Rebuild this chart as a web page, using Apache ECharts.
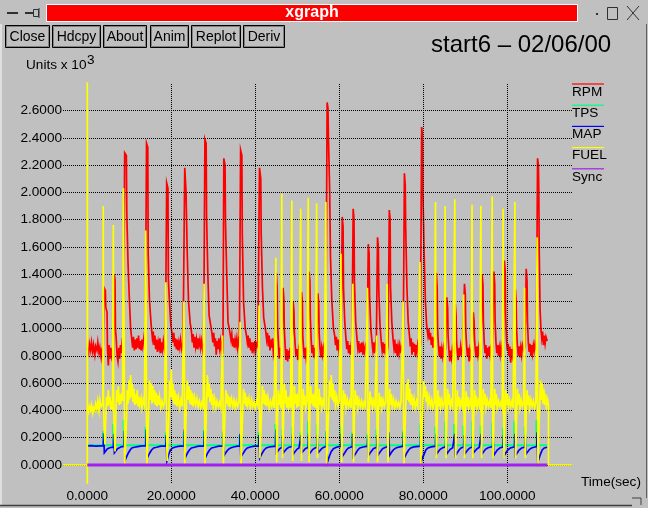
<!DOCTYPE html>
<html><head><meta charset="utf-8">
<script src="https://cdn.jsdelivr.net/npm/echarts@6/dist/echarts.min.js"></script>
<style>html,body{margin:0;padding:0;background:#c0c0c0;overflow:hidden}#c{width:648px;height:508px}</style>
</head><body><div id="c"></div><script>
const xTicks=[0,20,40,60,80,100];
const yTicks=[0,0.2,0.4,0.6,0.8,1.0,1.2,1.4,1.6,1.8,2.0,2.2,2.4,2.6];
const seriesNames=['RPM','TPS','MAP','FUEL','Sync'];
const buttonLabels=['Close','Hdcpy','About','Anim','Replot','Deriv'];
const plotTitle='start6 – 02/06/00';
const xAxisName='Time(sec)';

const rpm=[[0,0.86],[0.3,0.82],[0.5,0.89],[0.8,0.84],[1.0,0.90],[1.3,0.83],[1.5,0.88],[1.8,0.81],[2.0,0.87],[2.3,0.84],[2.5,0.90],[2.8,0.82],[3.0,0.86],[3.3,0.79],[3.5,0.85],[3.8,0.88],
[4.0,1.30],[4.3,1.28],[4.4,1.16],[4.7,1.12],[4.8,0.86],[5.0,0.73],[5.2,0.88],[5.4,0.78],[5.6,0.86],[5.8,0.80],[6.0,0.84],[6.2,0.76],
[6.4,1.40],[6.6,1.36],[6.7,1.00],[6.9,0.92],[7.1,0.80],[7.3,0.76],[7.5,0.86],[7.7,0.78],[7.9,0.88],[8.1,0.82],[8.3,0.90],[8.6,0.87],
[8.9,2.29],[9.3,2.27],[9.4,1.85],[9.7,1.48],[10.0,1.23],[10.3,1.01],[10.6,0.92],[10.8,0.86],[11.0,0.94],[11.2,0.84],[11.4,0.92],[11.6,0.85],[11.8,0.93],[12.0,0.86],[12.2,0.95],[12.4,0.85],[12.6,0.91],[12.8,0.84],[13.0,0.92],[13.2,0.87],[13.5,0.94],[13.8,0.88],
[14.1,2.36],[14.4,2.33],[14.5,1.55],[14.8,1.21],[15.2,1.03],[15.5,0.93],[15.7,0.98],[15.9,0.88],[16.1,0.95],[16.3,0.85],[16.5,0.92],[16.7,0.83],[16.9,0.90],[17.1,0.86],[17.3,0.93],[17.5,0.82],[17.7,0.90],[17.9,0.85],[18.1,0.91],[18.4,0.84],[18.6,0.88],
[18.9,2.07],[19.2,2.03],[19.3,1.36],[19.6,1.18],[19.9,1.02],[20.2,0.96],[20.4,0.90],[20.6,0.97],[20.8,0.87],[21.0,0.93],[21.2,0.85],[21.4,0.92],[21.6,0.84],[21.8,0.90],[22.0,0.86],[22.2,0.92],[22.5,0.85],[22.8,0.90],
[23.2,2.18],[23.5,2.01],[23.8,1.55],[24.1,1.20],[24.5,1.04],[24.8,0.98],[25.0,0.90],[25.2,0.96],[25.4,0.86],[25.6,0.94],[25.8,0.87],[26.0,0.92],[26.2,0.85],[26.4,0.93],[26.6,0.88],[26.8,0.92],[27.0,0.86],[27.2,0.91],[27.5,0.84],[27.7,0.88],
[28.0,2.39],[28.3,2.36],[28.4,1.82],[28.7,1.40],[29.0,1.10],[29.4,1.02],[29.7,0.96],[29.9,0.90],[30.1,0.97],[30.3,0.87],[30.5,0.93],[30.7,0.81],[30.9,0.91],[31.1,0.85],[31.3,0.93],[31.5,0.86],[31.7,0.91],[31.9,0.84],[32.1,0.89],[32.3,0.86],
[32.5,2.25],[32.8,2.20],[32.9,1.78],[33.2,1.40],[33.5,1.05],[33.9,0.98],[34.2,0.92],[34.4,0.96],[34.6,0.87],[34.8,0.93],[35.0,0.86],[35.2,0.92],[35.4,0.88],[35.6,0.93],[35.8,0.86],[36.0,0.91],[36.2,0.88],
[36.5,2.31],[36.8,2.27],[36.9,1.70],[37.2,1.20],[37.6,1.00],[37.9,0.95],[38.1,0.90],[38.3,0.95],[38.5,0.86],[38.7,0.93],[38.9,0.84],[39.1,0.90],[39.3,0.82],[39.5,0.90],[39.7,0.85],[39.9,0.91],[40.1,0.84],[40.3,0.89],[40.6,0.87],
[41.0,2.18],[41.3,2.10],[41.4,1.70],[41.7,1.30],[42.0,1.08],[42.4,1.00],[42.7,0.92],[42.9,0.97],[43.1,0.87],[43.3,0.95],[43.5,0.84],[43.7,0.92],[43.9,0.86],[44.1,0.93],[44.3,0.82],[44.6,0.88],
[45.0,1.41],[45.2,1.30],[45.3,1.02],[45.5,0.90],[45.7,0.78],[45.9,0.86],[46.1,0.79],[46.3,0.85],
[46.6,1.30],[46.8,1.22],[46.9,1.00],[47.1,0.88],[47.3,0.77],[47.5,0.85],[47.7,0.76],[47.9,0.84],[48.1,0.78],[48.3,0.86],[48.5,0.80],[48.7,0.84],
[49.0,1.20],[49.2,1.13],[49.3,0.98],[49.5,0.88],[49.7,0.80],[49.9,0.85],[50.1,0.77],[50.3,0.84],[50.5,0.79],[50.7,0.83],
[51.0,1.27],[51.2,1.20],[51.3,0.95],[51.5,0.85],[51.7,0.78],[51.9,0.86],[52.1,0.79],[52.3,0.84],[52.5,0.81],
[52.8,1.42],[53.0,1.35],[53.1,1.08],[53.3,0.92],[53.5,0.82],[53.7,0.88],[53.9,0.79],[54.1,0.86],[54.3,0.80],[54.6,0.85],
[54.9,1.26],[55.1,1.18],[55.2,0.97],[55.4,0.86],[55.6,0.79],[55.8,0.86],[56.0,0.81],[56.2,0.86],[56.4,0.82],[56.6,0.88],[56.8,0.90],
[57.1,2.66],[57.3,2.62],[57.4,2.42],[57.7,2.02],[57.9,1.53],[58.2,1.22],[58.6,1.00],[58.9,0.95],[59.1,0.88],[59.3,0.94],[59.5,0.84],[59.7,0.92],[59.9,0.85],[60.1,0.90],[60.4,0.86],
[60.7,1.82],[60.9,1.75],[61.0,1.30],[61.3,1.05],[61.6,0.92],[61.8,0.85],[62.0,0.91],[62.2,0.82],[62.4,0.88],[62.6,0.81],[62.8,0.87],[63.0,0.84],
[63.3,1.88],[63.5,1.80],[63.6,1.35],[63.9,1.05],[64.2,0.93],[64.4,0.86],[64.6,0.91],[64.8,0.82],[65.0,0.89],[65.2,0.83],[65.4,0.90],[65.6,0.81],[65.8,0.87],[66.0,0.83],[66.3,0.88],[66.6,0.85],
[66.9,1.62],[67.1,1.55],[67.2,1.25],[67.5,1.00],[67.8,0.90],[68.0,0.84],[68.2,0.90],[68.4,0.82],[68.6,0.88],[68.8,0.85],
[69.1,1.67],[69.3,1.60],[69.4,1.28],[69.7,1.02],[70.0,0.90],[70.2,0.84],[70.4,0.90],[70.6,0.82],[70.8,0.89],[71.0,0.81],[71.2,0.88],[71.4,0.83],[71.6,0.87],
[71.9,1.87],[72.1,1.80],[72.2,1.30],[72.5,1.05],[72.8,0.92],[73.0,0.86],[73.2,0.92],[73.4,0.82],[73.6,0.89],[73.8,0.80],[74.0,0.87],[74.2,0.82],[74.4,0.88],[74.6,0.84],[74.9,0.87],[75.2,0.83],
[75.5,2.14],[75.7,2.05],[75.8,1.75],[76.1,1.30],[76.4,1.05],[76.7,0.95],[76.9,0.87],[77.1,0.93],[77.3,0.81],[77.5,0.90],[77.7,0.83],[77.9,0.89],[78.1,0.80],[78.3,0.88],[78.5,0.83],[78.7,0.89],[79.0,0.85],[79.3,0.88],
[79.6,2.48],[79.8,2.42],[79.9,2.00],[80.2,1.55],[80.5,1.20],[80.8,1.02],[81.1,0.95],[81.3,1.00],[81.5,0.92],[81.7,0.97],[81.9,0.88],[82.1,0.94],[82.3,0.86],[82.5,0.91],[82.8,0.87],
[83.1,1.41],[83.3,1.30],[83.4,1.00],[83.6,0.88],[83.8,0.80],[84.0,0.87],[84.2,0.78],[84.4,0.85],[84.6,0.80],[84.8,0.86],[85.0,0.82],[85.3,0.85],
[85.6,1.23],[85.8,1.15],[85.9,0.95],[86.1,0.84],[86.3,0.76],[86.5,0.84],[86.7,0.79],[86.9,0.85],[87.1,0.81],[87.3,0.84],
[87.6,1.18],[87.8,1.10],[87.9,0.92],[88.1,0.83],[88.3,0.77],[88.5,0.86],[88.7,0.80],[88.9,0.87],[89.1,0.82],[89.4,0.85],
[89.8,1.33],[90.0,1.25],[90.1,1.00],[90.3,0.88],[90.5,0.80],[90.7,0.86],[90.9,0.76],[91.1,0.84],[91.3,0.80],[91.6,0.86],
[91.9,1.12],[92.1,1.05],[92.2,0.92],[92.4,0.84],[92.6,0.79],[92.8,0.87],[93.0,0.81],[93.2,0.86],[93.4,0.80],[93.7,0.85],
[94.0,1.40],[94.2,1.32],[94.3,1.05],[94.5,0.90],[94.7,0.82],[94.9,0.88],[95.1,0.78],[95.3,0.86],[95.5,0.80],[95.7,0.87],[95.9,0.81],[96.1,0.86],[96.4,0.83],
[96.8,1.42],[97.0,1.33],[97.1,1.05],[97.3,0.90],[97.5,0.82],[97.7,0.88],[97.9,0.80],[98.1,0.86],[98.3,0.81],[98.5,0.87],[98.7,0.82],[99.0,0.85],
[99.3,1.50],[99.5,1.42],[99.6,1.10],[99.8,0.92],[100.0,0.84],[100.2,0.89],[100.4,0.80],[100.6,0.87],[100.8,0.75],[101.0,0.85],[101.2,0.80],[101.5,0.86],
[101.9,1.29],[102.1,1.20],[102.2,1.00],[102.4,0.88],[102.6,0.80],[102.8,0.87],[103.0,0.79],[103.2,0.86],[103.4,0.81],[103.6,0.88],[103.9,0.84],[104.2,0.86],
[104.5,1.44],[104.7,1.35],[104.8,1.05],[105.0,0.90],[105.2,0.83],[105.4,0.89],[105.6,0.80],[105.8,0.88],[106.0,0.82],[106.2,0.88],[106.4,0.84],[106.6,0.89],[106.9,0.85],
[107.2,2.25],[107.4,2.20],[107.5,2.00],[107.6,1.57],[107.8,1.14],[108.0,1.00],[108.2,0.93],[108.4,0.98],[108.6,0.88],[108.8,0.95],[109.0,0.89],[109.2,0.94],[109.5,0.91]];

const tps=[[0,0.145],
[3.75,0.145],[3.75,0.25],[3.9,0.25],[3.9,0.145],[6.15,0.145],[6.15,0.30],[6.3,0.30],[6.3,0.145],
[8.65,0.145],[8.65,0.33],[8.8,0.33],[8.8,0.145],[13.85,0.145],[13.85,0.28],[14.0,0.28],[14.0,0.145],
[18.65,0.145],[18.65,0.24],[18.8,0.24],[18.8,0.145],[22.95,0.145],[22.95,0.24],[23.1,0.24],[23.1,0.145],
[27.75,0.145],[27.75,0.26],[27.9,0.26],[27.9,0.145],[32.25,0.145],[32.25,0.25],[32.4,0.25],[32.4,0.145],
[36.25,0.145],[36.25,0.22],[36.4,0.22],[36.4,0.145],[40.75,0.145],[40.75,0.24],[40.9,0.24],[40.9,0.145],
[44.75,0.145],[44.75,0.30],[44.9,0.30],[44.9,0.145],[46.35,0.145],[46.35,0.26],[46.5,0.26],[46.5,0.145],
[48.75,0.145],[48.75,0.28],[48.9,0.28],[48.9,0.145],[50.75,0.145],[50.75,0.24],[50.9,0.24],[50.9,0.145],
[52.55,0.145],[52.55,0.32],[52.7,0.32],[52.7,0.145],[54.65,0.145],[54.65,0.30],[54.8,0.30],[54.8,0.145],
[56.85,0.145],[56.85,0.25],[57.0,0.25],[57.0,0.145],[60.35,0.145],[60.35,0.28],[60.5,0.28],[60.5,0.145],
[63.05,0.145],[63.05,0.24],[63.2,0.24],[63.2,0.145],[66.65,0.145],[66.65,0.23],[66.8,0.23],[66.8,0.145],
[68.85,0.145],[68.85,0.26],[69.0,0.26],[69.0,0.145],[71.65,0.145],[71.65,0.24],[71.8,0.24],[71.8,0.145],
[75.15,0.145],[75.15,0.25],[75.3,0.25],[75.3,0.145],[79.25,0.145],[79.25,0.30],[79.4,0.30],[79.4,0.145],
[82.85,0.145],[82.85,0.28],[83.0,0.28],[83.0,0.145],[85.25,0.145],[85.25,0.32],[85.4,0.32],[85.4,0.145],
[87.35,0.145],[87.35,0.30],[87.5,0.30],[87.5,0.145],[89.55,0.145],[89.55,0.29],[89.7,0.29],[89.7,0.145],
[91.65,0.145],[91.65,0.32],[91.8,0.32],[91.8,0.145],[93.65,0.145],[93.65,0.29],[93.8,0.29],[93.8,0.145],
[96.45,0.145],[96.45,0.31],[96.6,0.31],[96.6,0.145],[98.95,0.145],[98.95,0.27],[99.1,0.27],[99.1,0.145],
[101.65,0.145],[101.65,0.32],[101.8,0.32],[101.8,0.145],[104.15,0.145],[104.15,0.28],[104.3,0.28],[104.3,0.145],
[106.95,0.145],[106.95,0.33],[107.1,0.33],[107.1,0.145],[109.5,0.145]];

const map=[[0,0.14],[1.0,0.142],[2.0,0.139],[3.0,0.141],[3.8,0.14],
[3.9,0.235],[4.0,0.235],[4.05,0.09],[4.4,0.10],[4.8,0.12],[5.2,0.125],[5.7,0.13],[6.2,0.13],
[6.3,0.23],[6.4,0.23],[6.45,0.09],[6.8,0.10],[7.2,0.12],[7.6,0.13],[8.2,0.135],[8.7,0.135],
[8.8,0.25],[9.0,0.25],[9.05,0.04],[9.5,0.04],[9.8,0.09],[10.2,0.11],[10.6,0.125],[11.2,0.13],[12.0,0.135],[13.0,0.14],[13.9,0.14],
[14.0,0.26],[14.2,0.26],[14.25,0.05],[14.6,0.05],[14.9,0.09],[15.3,0.11],[15.8,0.125],[16.5,0.13],[17.5,0.138],[18.7,0.14],
[18.8,0.22],[18.9,0.22],[18.95,0.03],[19.2,0.03],[19.4,0.08],[19.8,0.11],[20.3,0.125],[21.0,0.132],[22.0,0.138],[23.0,0.14],
[23.1,0.26],[23.2,0.26],[23.25,0.05],[23.6,0.05],[23.9,0.09],[24.3,0.11],[24.8,0.125],[25.5,0.13],[26.5,0.138],[27.8,0.14],
[27.9,0.25],[28.0,0.25],[28.05,0.05],[28.4,0.05],[28.7,0.09],[29.1,0.11],[29.6,0.125],[30.3,0.13],[31.3,0.138],[32.3,0.14],
[32.4,0.24],[32.5,0.24],[32.55,0.07],[32.9,0.07],[33.2,0.10],[33.6,0.115],[34.1,0.125],[34.8,0.132],[35.8,0.138],[36.3,0.14],
[36.4,0.23],[36.5,0.23],[36.55,0.06],[36.9,0.06],[37.2,0.09],[37.6,0.11],[38.1,0.125],[38.8,0.132],[39.8,0.138],[40.8,0.14],
[40.9,0.22],[41.0,0.22],[41.05,0.05],[41.4,0.05],[41.7,0.09],[42.1,0.11],[42.6,0.125],[43.3,0.132],[44.8,0.138],
[44.9,0.26],[45.0,0.26],[45.05,0.09],[45.4,0.10],[45.8,0.12],[46.4,0.13],
[46.5,0.22],[46.6,0.22],[46.65,0.09],[47.0,0.10],[47.5,0.12],[48.0,0.13],[48.8,0.135],
[48.9,0.23],[49.0,0.23],[49.05,0.08],[49.4,0.09],[49.9,0.115],[50.4,0.125],[50.8,0.13],
[50.9,0.22],[51.0,0.22],[51.05,0.09],[51.4,0.10],[51.9,0.12],[52.6,0.13],
[52.7,0.23],[52.8,0.23],[52.85,0.08],[53.2,0.09],[53.7,0.115],[54.2,0.125],[54.7,0.13],
[54.8,0.22],[54.9,0.22],[54.95,0.09],[55.3,0.10],[55.8,0.12],[56.3,0.13],[56.9,0.135],
[57.0,0.25],[57.1,0.25],[57.15,0.02],[57.4,0.02],[57.7,0.07],[58.1,0.10],[58.6,0.12],[59.3,0.13],[60.4,0.138],
[60.5,0.23],[60.6,0.23],[60.65,0.06],[61.0,0.06],[61.3,0.09],[61.7,0.11],[62.2,0.125],[63.1,0.135],
[63.2,0.23],[63.3,0.23],[63.35,0.06],[63.7,0.06],[64.0,0.09],[64.4,0.11],[64.9,0.125],[65.7,0.132],[66.7,0.138],
[66.8,0.22],[66.9,0.22],[66.95,0.07],[67.3,0.07],[67.6,0.10],[68.1,0.12],[68.9,0.13],
[69.0,0.22],[69.1,0.22],[69.15,0.07],[69.5,0.07],[69.8,0.10],[70.3,0.12],[71.0,0.13],[71.7,0.135],
[71.8,0.24],[71.9,0.24],[71.95,0.07],[72.3,0.07],[72.6,0.10],[73.0,0.115],[73.6,0.127],[74.4,0.133],[75.2,0.138],
[75.3,0.24],[75.4,0.24],[75.45,0.05],[75.8,0.05],[76.1,0.09],[76.5,0.11],[77.0,0.125],[77.8,0.133],[79.3,0.138],
[79.4,0.26],[79.5,0.26],[79.55,0.03],[79.9,0.03],[80.2,0.08],[80.6,0.11],[81.1,0.125],[81.9,0.133],[82.9,0.138],
[83.0,0.23],[83.1,0.23],[83.15,0.08],[83.5,0.09],[84.0,0.115],[84.6,0.127],[85.3,0.133],
[85.4,0.22],[85.5,0.22],[85.55,0.08],[85.9,0.09],[86.4,0.115],[87.0,0.127],[87.4,0.132],
[87.5,0.23],[87.6,0.23],[87.65,0.07],[88.0,0.08],[88.5,0.11],[89.0,0.125],[89.6,0.132],
[89.7,0.22],[89.8,0.22],[89.85,0.08],[90.2,0.09],[90.7,0.115],[91.2,0.127],[91.7,0.132],
[91.8,0.22],[91.9,0.22],[91.95,0.09],[92.3,0.10],[92.8,0.12],[93.3,0.128],[93.7,0.132],
[93.8,0.23],[93.9,0.23],[93.95,0.08],[94.3,0.09],[94.8,0.115],[95.4,0.127],[96.5,0.135],
[96.6,0.23],[96.7,0.23],[96.75,0.07],[97.1,0.08],[97.6,0.11],[98.2,0.125],[99.0,0.133],
[99.1,0.22],[99.2,0.22],[99.25,0.07],[99.6,0.08],[100.1,0.11],[100.7,0.125],[101.7,0.133],
[101.8,0.23],[101.9,0.23],[101.95,0.07],[102.3,0.08],[102.8,0.11],[103.4,0.125],[104.2,0.132],
[104.3,0.22],[104.4,0.22],[104.45,0.08],[104.8,0.09],[105.3,0.115],[105.9,0.127],[107.0,0.135],
[107.1,0.24],[107.2,0.24],[107.25,0.02],[107.6,0.02],[107.9,0.08],[108.3,0.11],[108.8,0.125],[109.5,0.13]];

const fuel=[[-5.8,0],[0,0],[0,-1],[0,3],[0.05,0.42],
[0.3,0.39],[0.5,0.43],[0.8,0.40],[1.0,0.44],[1.3,0.38],[1.5,0.42],[1.8,0.40],[2.0,0.45],[2.3,0.41],[2.5,0.47],[2.8,0.40],[3.0,0.48],[3.3,0.43],[3.7,0.45],
[3.8,1.90],[3.85,0.50],[4.0,0.28],[4.2,0.15],[4.4,0.35],[4.6,0.50],[4.8,0.43],[5.0,0.55],[5.2,0.44],[5.4,0.50],[5.6,0.41],[5.8,0.47],[6.0,0.40],
[6.2,1.76],[6.25,0.60],[6.4,0.25],[6.6,0.10],[6.8,0.38],[7.0,0.55],[7.2,0.46],[7.4,0.58],[7.6,0.44],[7.8,0.52],[8.0,0.45],[8.2,0.53],[8.4,0.47],
[8.6,2.03],[8.7,1.50],[8.8,0.70],[8.9,0.00],[9.2,0.00],[9.3,0.30],[9.5,0.55],[9.7,0.45],[9.9,0.62],[10.1,0.48],[10.3,0.66],[10.5,0.50],[10.7,0.60],[10.9,0.46],[11.1,0.56],[11.3,0.44],[11.5,0.52],[11.7,0.45],[11.9,0.55],[12.1,0.43],[12.3,0.50],[12.5,0.44],[12.8,0.49],[13.0,0.42],[13.3,0.48],[13.6,0.44],
[13.9,1.72],[14.0,1.20],[14.1,0.30],[14.2,0.00],[14.5,0.00],[14.6,0.40],[14.8,0.62],[15.0,0.48],[15.2,0.60],[15.4,0.45],[15.6,0.58],[15.8,0.46],[16.0,0.55],[16.2,0.44],[16.4,0.53],[16.6,0.43],[16.8,0.51],[17.0,0.44],[17.2,0.50],[17.5,0.42],[17.8,0.47],[18.1,0.43],[18.4,0.46],
[18.7,1.34],[18.8,0.90],[18.9,0.20],[19.0,0.03],[19.3,0.03],[19.4,0.35],[19.6,0.62],[19.8,0.50],[20.0,0.70],[20.2,0.48],[20.4,0.60],[20.6,0.45],[20.8,0.55],[21.0,0.44],[21.2,0.52],[21.4,0.43],[21.7,0.50],[22.0,0.42],[22.3,0.48],[22.6,0.43],
[23.0,1.20],[23.1,0.80],[23.2,0.00],[23.5,0.00],[23.6,0.45],[23.8,0.62],[24.0,0.48],[24.2,0.58],[24.4,0.45],[24.6,0.55],[24.8,0.44],[25.0,0.53],[25.2,0.43],[25.5,0.50],[25.8,0.44],[26.1,0.49],[26.4,0.43],[26.7,0.47],[27.0,0.42],[27.3,0.46],[27.6,0.43],
[27.8,1.33],[27.9,0.85],[28.0,0.00],[28.3,0.00],[28.4,0.45],[28.6,0.66],[28.8,0.50],[29.0,0.60],[29.2,0.46],[29.4,0.56],[29.6,0.44],[29.8,0.52],[30.0,0.43],[30.3,0.49],[30.6,0.42],[30.9,0.47],[31.2,0.43],[31.5,0.46],[31.8,0.42],
[32.2,0.95],[32.3,0.50],[32.4,0.00],[32.7,0.00],[32.8,0.40],[33.0,0.55],[33.2,0.45],[33.4,0.52],[33.6,0.43],[33.8,0.50],[34.0,0.44],[34.3,0.49],[34.6,0.43],[34.9,0.48],[35.2,0.42],[35.5,0.47],[35.8,0.43],[36.1,0.46],
[36.4,1.05],[36.5,0.60],[36.6,0.00],[36.9,0.00],[37.0,0.40],[37.2,0.56],[37.4,0.45],[37.6,0.53],[37.8,0.43],[38.0,0.50],[38.2,0.44],[38.5,0.49],[38.8,0.42],[39.1,0.48],[39.4,0.43],[39.7,0.46],[40.0,0.42],[40.3,0.47],[40.6,0.44],
[40.9,1.17],[41.0,0.70],[41.1,0.05],[41.4,0.05],[41.5,0.40],[41.7,0.58],[41.9,0.45],[42.1,0.55],[42.3,0.44],[42.5,0.52],[42.7,0.43],[43.0,0.50],[43.3,0.42],[43.6,0.47],[43.9,0.43],[44.2,0.48],[44.5,0.42],
[44.9,1.52],[45.0,0.30],[45.1,0.02],[45.3,0.35],[45.5,0.55],[45.7,0.44],[45.9,0.52],[46.1,0.42],
[46.3,1.99],[46.4,0.60],[46.5,0.05],[46.7,0.30],[46.9,0.60],[47.1,0.45],[47.3,0.55],[47.5,0.42],[47.7,0.50],[47.9,0.43],[48.1,0.48],[48.4,0.42],
[48.7,1.94],[48.8,0.50],[48.9,0.03],[49.1,0.35],[49.3,0.58],[49.5,0.45],[49.7,0.52],[49.9,0.42],[50.1,0.49],[50.4,0.43],
[50.8,1.88],[50.9,0.55],[51.0,0.03],[51.2,0.38],[51.4,0.56],[51.6,0.44],[51.8,0.51],[52.0,0.42],[52.3,0.47],
[52.6,1.96],[52.7,0.60],[52.8,0.02],[53.0,0.40],[53.2,0.58],[53.4,0.45],[53.6,0.52],[53.8,0.43],[54.0,0.49],[54.3,0.42],
[54.6,1.92],[54.7,0.50],[54.8,0.05],[55.0,0.38],[55.2,0.56],[55.4,0.44],[55.6,0.50],[55.8,0.42],[56.1,0.47],[56.4,0.43],
[56.8,1.93],[56.9,0.80],[57.0,0.00],[57.4,0.00],[57.5,0.45],[57.7,0.62],[57.9,0.50],[58.1,0.66],[58.3,0.48],[58.5,0.60],[58.7,0.46],[58.9,0.55],[59.1,0.44],[59.4,0.50],[59.7,0.43],[60.0,0.47],
[60.4,1.55],[60.5,0.40],[60.6,0.02],[60.8,0.38],[61.0,0.55],[61.2,0.44],[61.4,0.52],[61.6,0.42],[61.9,0.48],[62.2,0.43],[62.5,0.47],[62.8,0.42],
[63.2,1.33],[63.3,0.40],[63.4,0.02],[63.6,0.38],[63.8,0.55],[64.0,0.44],[64.2,0.51],[64.4,0.42],[64.7,0.48],[65.0,0.43],[65.3,0.47],[65.6,0.42],[65.9,0.46],[66.2,0.43],
[66.7,1.30],[66.8,0.40],[66.9,0.02],[67.1,0.36],[67.3,0.54],[67.5,0.44],[67.7,0.50],[67.9,0.42],[68.2,0.47],[68.5,0.43],
[68.9,0.95],[69.0,0.30],[69.1,0.02],[69.3,0.36],[69.5,0.53],[69.7,0.43],[69.9,0.50],[70.1,0.42],[70.4,0.48],[70.7,0.43],[71.0,0.46],
[71.4,1.33],[71.5,0.40],[71.6,0.02],[71.8,0.38],[72.0,0.56],[72.2,0.44],[72.4,0.52],[72.6,0.43],[72.9,0.48],[73.2,0.42],[73.5,0.47],[73.8,0.43],[74.1,0.46],[74.4,0.42],[74.7,0.47],
[75.2,1.20],[75.3,0.40],[75.4,0.00],[75.7,0.00],[75.8,0.42],[76.0,0.60],[76.2,0.48],[76.4,0.63],[76.6,0.46],[76.8,0.56],[77.0,0.44],[77.2,0.52],[77.5,0.43],[77.8,0.49],[78.1,0.42],[78.4,0.47],[78.7,0.43],
[79.2,1.49],[79.3,0.60],[79.4,0.00],[79.8,0.00],[79.9,0.45],[80.1,0.62],[80.3,0.50],[80.5,0.58],[80.7,0.46],[80.9,0.54],[81.1,0.44],[81.4,0.50],[81.7,0.43],[82.0,0.48],[82.3,0.42],[82.6,0.46],
[82.9,1.93],[83.0,0.50],[83.1,0.05],[83.3,0.35],[83.5,0.55],[83.7,0.43],[83.9,0.50],[84.1,0.42],[84.4,0.48],[84.7,0.43],[85.0,0.46],
[85.2,1.90],[85.3,0.50],[85.4,0.05],[85.6,0.36],[85.8,0.56],[86.0,0.44],[86.2,0.52],[86.4,0.42],[86.7,0.47],[87.0,0.43],
[87.5,1.95],[87.6,0.50],[87.7,0.05],[87.9,0.36],[88.1,0.55],[88.3,0.43],[88.5,0.50],[88.7,0.42],[89.0,0.47],[89.3,0.43],
[89.6,1.25],[89.7,0.40],[89.8,0.05],[90.0,0.38],[90.2,0.54],[90.4,0.43],[90.6,0.50],[90.8,0.42],[91.1,0.47],[91.4,0.43],
[91.6,1.91],[91.7,0.50],[91.8,0.05],[92.0,0.36],[92.2,0.55],[92.4,0.43],[92.6,0.51],[92.8,0.42],[93.1,0.47],[93.4,0.43],
[93.7,1.90],[93.8,0.50],[93.9,0.05],[94.1,0.36],[94.3,0.56],[94.5,0.44],[94.7,0.52],[94.9,0.42],[95.2,0.48],[95.5,0.43],[95.8,0.47],[96.1,0.42],
[96.4,1.97],[96.5,0.50],[96.6,0.05],[96.8,0.36],[97.0,0.56],[97.2,0.44],[97.4,0.52],[97.6,0.42],[97.9,0.47],[98.2,0.43],[98.5,0.46],[98.8,0.42],
[99.0,1.88],[99.1,0.50],[99.2,0.05],[99.4,0.36],[99.6,0.55],[99.8,0.44],[100.0,0.52],[100.2,0.42],[100.5,0.48],[100.8,0.43],[101.1,0.47],[101.4,0.42],
[101.8,1.93],[101.9,0.50],[102.0,0.05],[102.2,0.36],[102.4,0.56],[102.6,0.44],[102.8,0.52],[103.0,0.42],[103.3,0.48],[103.6,0.43],[103.9,0.46],
[104.1,1.30],[104.2,0.40],[104.3,0.05],[104.5,0.38],[104.7,0.55],[104.9,0.44],[105.1,0.51],[105.3,0.42],[105.6,0.48],[105.9,0.43],[106.2,0.47],[106.5,0.42],[106.8,0.46],
[107.1,1.67],[107.2,0.60],[107.3,0.00],[107.6,0.00],[107.7,0.45],[107.9,0.62],[108.1,0.48],[108.3,0.60],[108.5,0.45],[108.7,0.56],[108.9,0.44],[109.1,0.52],[109.3,0.43],[109.6,0.48],[109.8,0.44],[109.8,0.00],[115.4,0.00]];

const sync=[[0,0],[109.5,0]];

const FONT='"Liberation Sans", Arial, Helvetica, sans-serif';
const colors=['#ff0000','#00ff7f','#0000ff','#ffff00','#a020f0'];
const widths=[1.7,2,1.7,1.7,3];
const seriesData=[rpm,tps,map,fuel,sync];

const chart=echarts.init(document.getElementById('c'),null,{renderer:'canvas'});

const gridLineStyle={color:'#000',width:1,type:[1,1]};
const graphics=[];
graphics.push({type:'line',shape:{x1:1,y1:24,x2:1,y2:506},style:{stroke:'#ffffff',lineWidth:1}});
graphics.push({type:'line',shape:{x1:0,y1:505.5,x2:632,y2:505.5},style:{stroke:'#404040',lineWidth:1.5}});
graphics.push({type:'line',shape:{x1:646.5,y1:24,x2:646.5,y2:498},style:{stroke:'#606060',lineWidth:1}});
graphics.push({type:'polyline',shape:{points:[[632,498],[641,498],[641,505]]},style:{stroke:'#404040',fill:null,lineWidth:1}});
graphics.push({type:'rect',shape:{x:46.5,y:4.5,width:531,height:17},style:{fill:'#ff0000',stroke:'#ffffff',lineWidth:1}});
graphics.push({type:'text',x:312,y:13,style:{text:'xgraph',fill:'#ffffff',font:'bold 16px '+FONT,align:'center',verticalAlign:'middle'}});
graphics.push({type:'line',shape:{x1:7,y1:13,x2:18,y2:13},style:{stroke:'#303030',lineWidth:2}});
graphics.push({type:'line',shape:{x1:25,y1:13,x2:33,y2:13},style:{stroke:'#303030',lineWidth:2}});
graphics.push({type:'rect',shape:{x:33.5,y:9.5,width:5,height:7},style:{fill:'none',stroke:'#303030',lineWidth:1}});
graphics.push({type:'line',shape:{x1:39,y1:8,x2:39,y2:18},style:{stroke:'#303030',lineWidth:1}});
graphics.push({type:'rect',shape:{x:596,y:13,width:2,height:2},style:{fill:'#303030'}});
graphics.push({type:'rect',shape:{x:607.5,y:7.5,width:10,height:12},style:{fill:'none',stroke:'#303030',lineWidth:1}});
graphics.push({type:'line',shape:{x1:627,y1:6,x2:639,y2:20},style:{stroke:'#303030',lineWidth:1}});
graphics.push({type:'line',shape:{x1:639,y1:6,x2:627,y2:20},style:{stroke:'#303030',lineWidth:1}});
const btnX=[5,52,103,150,191,243];
const btnW=[44,48,43,38,49,41];
buttonLabels.forEach((b,i)=>{
  graphics.push({type:'rect',shape:{x:btnX[i]+0.5,y:25.5,width:btnW[i],height:22},style:{fill:'#c0c0c0',stroke:'#000',lineWidth:1}});
  graphics.push({type:'rect',shape:{x:btnX[i]+1.5,y:26.5,width:btnW[i]-2,height:20},style:{fill:'none',stroke:'#808080',lineWidth:1}});
  graphics.push({type:'text',x:btnX[i]+btnW[i]/2+0.5,y:37,style:{text:b,fill:'#000',font:'14px '+FONT,align:'center',verticalAlign:'middle'}});
});
graphics.push({type:'text',x:431,y:45,style:{text:plotTitle,fill:'#000',font:'24px '+FONT,verticalAlign:'middle'}});
graphics.push({type:'text',x:26,y:65.5,style:{text:'Units x 10',fill:'#000',font:'13.6px '+FONT,verticalAlign:'middle'}});
graphics.push({type:'text',x:87,y:60,style:{text:'3',fill:'#000',font:'13.6px '+FONT,verticalAlign:'middle'}});
graphics.push({type:'text',x:581,y:482,style:{text:xAxisName,fill:'#000',font:'13.6px '+FONT,verticalAlign:'middle'}});
seriesNames.forEach((n,i)=>{
  const y=84+i*21.2;
  graphics.push({type:'line',shape:{x1:572,y1:y,x2:604,y2:y},style:{stroke:colors[i],lineWidth:1.2}});
  graphics.push({type:'text',x:572,y:y+8,style:{text:n,fill:'#000',font:'13.6px '+FONT,verticalAlign:'middle'}});
});

const series=[{
  type:'line',data:[],silent:true,z:1,showSymbol:false,
  markLine:{silent:true,symbol:['none','none'],animation:false,label:{show:false},lineStyle:gridLineStyle,emphasis:{disabled:true},
    data:xTicks.map(v=>({xAxis:v})).concat(yTicks.map(v=>({yAxis:v})))}
}];
seriesNames.forEach((n,i)=>{
  series.push({type:'line',name:n,data:seriesData[i],showSymbol:false,symbol:'none',z:2+i,clip:true,
    lineStyle:{color:colors[i],width:widths[i],join:'miter'},itemStyle:{color:colors[i]},emphasis:{disabled:true},silent:true,animation:false});
});

chart.setOption({
  animation:false,
  backgroundColor:'#c0c0c0',
  grid:{left:63,right:76,top:83,bottom:25},
  xAxis:{type:'value',min:-5.786,max:115.4,axisLine:{show:false},axisTick:{show:false},splitLine:{show:false},
    axisLabel:{customValues:xTicks,formatter:v=>Number(v).toFixed(4),color:'#000',fontSize:13.6,fontFamily:FONT,margin:6}},
  yAxis:{type:'value',min:-0.132,max:2.8026,axisLine:{show:false},axisTick:{show:false},splitLine:{show:false},
    axisLabel:{customValues:yTicks,formatter:v=>Number(v).toFixed(4),color:'#000',fontSize:13.6,fontFamily:FONT,margin:1}},
  graphic:graphics,
  series:series
});
</script></body></html>
